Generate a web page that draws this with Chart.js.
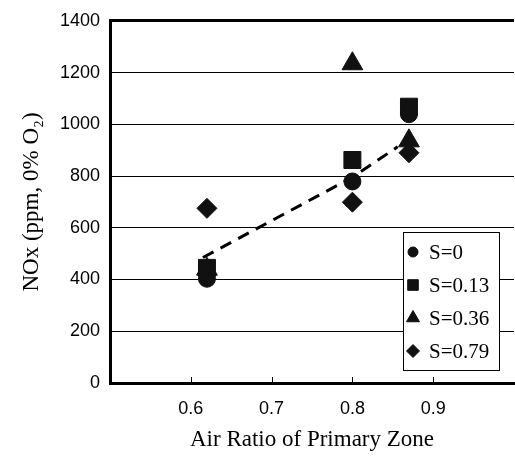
<!DOCTYPE html>
<html>
<head>
<meta charset="utf-8">
<script src="https://cdn.jsdelivr.net/npm/chart.js@4/dist/chart.umd.min.js"></script>
<style>
  html, body { margin: 0; padding: 0; background: #fff; overflow: hidden; }
  #wrap { width: 515px; height: 457px; position: relative; }
  canvas { display: block; }
</style>
</head>
<body>
<div id="wrap"><canvas id="c"></canvas></div>
<script>
// values
const airRatio = [0.62, 0.80, 0.87];
const noxS0 = [403, 779, 1039];
const noxS013 = [445, 862, 1068];
const noxS036 = [440, 1234, 936];
const noxS079 = [675, 699, 890];
const fitX = [0.615, 0.80, 0.856];
const fitY = [485, 795, 913];
const seriesLabels = ["S=0", "S=0.13", "S=0.36", "S=0.79"];
const xTickLabels = [0.6, 0.7, 0.8, 0.9];

const toPts = (xs, ys) => xs.map((x, i) => ({ x: x, y: ys[i] }));

// marker shape, plot radius, legend radius, draw order (higher = further back)
const markers = [
  { style: "circle", r: 8.5, lr: 5, order: 2 },
  { style: "rect", r: 12, lr: 7.5, order: 1 },
  { style: "triangle", r: 12, lr: 7.5, order: 3 },
  { style: "rectRot", r: 10, lr: 6.5, order: 0 },
];

const legendBox = {
  id: "legendBox",
  afterDraw(chart) {
    const { ctx, chartArea } = chart;
    const w = 96, h = 138;
    const left = chartArea.right - 15 - w;
    const top = chartArea.bottom - 13 - h;
    ctx.save();
    ctx.fillStyle = "#fff";
    ctx.fillRect(left, top, w, h);
    ctx.strokeStyle = "#000";
    ctx.lineWidth = 1;
    ctx.strokeRect(left + 0.5, top + 0.5, w, h);
    ctx.font = "21px 'Liberation Serif'";
    ctx.textBaseline = "middle";
    seriesLabels.forEach((lab, i) => {
      const y = top + 20 + i * 33;
      ctx.fillStyle = "#111";
      ctx.strokeStyle = "#111";
      Chart.helpers.drawPoint(ctx, { pointStyle: markers[i].style, radius: markers[i].lr, rotation: 0, borderWidth: 1 }, left + 10, y);
      ctx.fillStyle = "#000";
      ctx.fillText(lab, left + 26, y + 1);
    });
    ctx.restore();
  },
};

const innerTicks = {
  id: "innerTicks",
  afterDatasetsDraw(chart) {
    const { ctx, chartArea, scales } = chart;
    ctx.save();
    ctx.strokeStyle = "#000";
    ctx.lineWidth = 1;
    xTickLabels.forEach((v) => {
      const px = Math.round(scales.x.getPixelForValue(v)) + 0.5;
      ctx.beginPath();
      ctx.moveTo(px, chartArea.bottom);
      ctx.lineTo(px, chartArea.bottom - 6);
      ctx.stroke();
    });
    ctx.restore();
  },
};

const datasets = [
  {
    label: "fit",
    data: toPts(fitX, fitY),
    showLine: true,
    borderColor: "#000",
    borderWidth: 3,
    borderDash: [12, 8],
    pointRadius: 0,
    tension: 0,
    order: 5,
  },
];
[noxS0, noxS013, noxS036, noxS079].forEach((ys, i) => {
  datasets.push({
    label: seriesLabels[i],
    data: toPts(airRatio, ys),
    pointStyle: markers[i].style,
    pointRadius: markers[i].r,
    pointBackgroundColor: "#111",
    pointBorderColor: "#111",
    pointBorderWidth: 1,
    showLine: false,
    order: markers[i].order,
  });
});

new Chart(document.getElementById("c"), {
  type: "scatter",
  data: { datasets: datasets },
  options: {
    responsive: true,
    maintainAspectRatio: false,
    animation: false,
    devicePixelRatio: 1,
    layout: { autoPadding: false, padding: { top: 15, right: 1, bottom: 0, left: 0 } },
    plugins: { legend: { display: false }, tooltip: { enabled: false } },
    scales: {
      x: {
        type: "linear",
        min: 0.5,
        max: 1.0,
        afterBuildTicks: (scale) => {
          scale.ticks = xTickLabels.map((v) => ({ value: v }));
        },
        afterFit: (scale) => { scale.height = 74; },
        grid: { display: false, drawTicks: false },
        border: { display: true, color: "#000", width: 3 },
        ticks: {
          color: "#000",
          padding: 15,
          font: { family: "'Liberation Sans'", size: 18 },
          callback: (v) => v.toFixed(1),
        },
        title: {
          display: true,
          text: "Air Ratio of Primary Zone",
          color: "#000",
          padding: 3,
          font: { family: "'Liberation Serif'", size: 23 },
        },
      },
      y: {
        min: 0,
        max: 1400,
        afterFit: (scale) => { scale.width = 110; },
        grid: {
          drawTicks: false,
          color: "#000",
          lineWidth: (c) => (c.tick && c.tick.value === 1400 ? 3 : 1),
        },
        border: { display: true, color: "#000", width: 3 },
        ticks: {
          stepSize: 200,
          color: "#000",
          padding: 10,
          font: { family: "'Liberation Sans'", size: 18 },
          callback: (v) => String(v),
        },
        title: {
          display: true,
          text: "NOx (ppm, 0% O₂)",
          color: "#000",
          padding: 18,
          font: { family: "'Liberation Serif'", size: 23 },
        },
      },
    },
  },
  plugins: [innerTicks, legendBox],
});
</script>
</body>
</html>
